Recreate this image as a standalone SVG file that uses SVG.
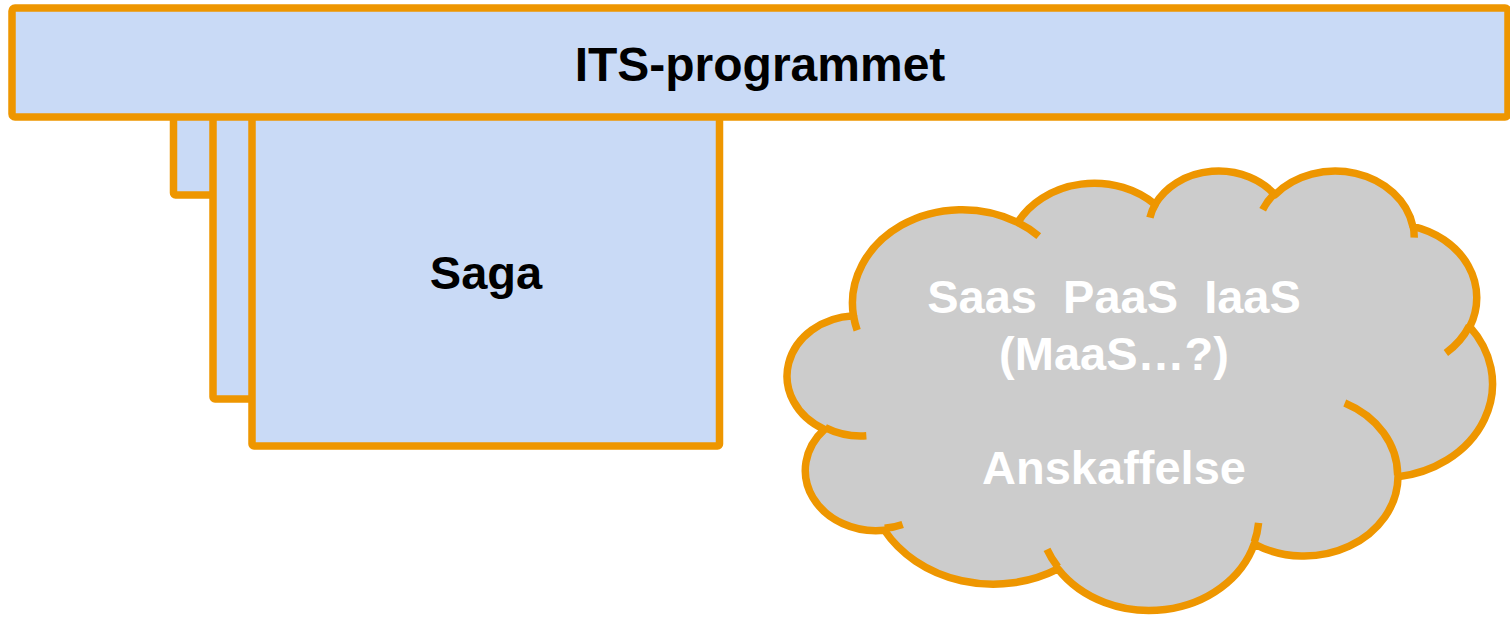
<svg xmlns="http://www.w3.org/2000/svg" width="1510" height="617" viewBox="0 0 1510 617">
<style>
.box{fill:#C9DAF6;stroke:#EE9600;stroke-width:7.5;stroke-linejoin:round}
.cl{stroke:#EE9600;stroke-width:7.5;stroke-linejoin:round}
.lbl{font-family:"Liberation Sans",Arial,sans-serif;font-weight:bold;font-size:47px;text-anchor:middle}
</style>
<rect width="1510" height="617" fill="#FFFFFF"/>
<g id="saga">
<rect class="box" x="173.5" y="60" width="90" height="135" rx="2"/>
<rect class="box" x="213" y="60" width="90" height="339" rx="2"/>
<rect class="box" x="252" y="60" width="467.5" height="386" rx="2"/>
<text class="lbl" x="486" y="289" fill="#000000">Saga</text>
</g>
<g id="its-programmet">
<rect class="box" x="12" y="8" width="1496" height="109" rx="3"/>
<text class="lbl" x="760" y="81" font-size="48" fill="#000000" style="font-size:48px">ITS-programmet</text>
</g>
<g id="cloud">
<g transform="translate(790.07,169.57) scale(0.016253,0.010169)">
<path class="cl" fill="#CCCCCC" vector-effect="non-scaling-stroke" d="M 3900 14370 A 6753 9190 0 0 1 14005.8 5202.6 A 5333 7267 0 0 1 22456.8 3432.4 A 4365 5945 0 0 1 29833.8 2481.1 A 4857 6595 0 0 1 38318.3 5577.4 A 5333 7273 0 0 1 41818.5 15461.3 A 6775 9220 0 0 1 37404.6 30204.7 A 5785 7867 0 0 1 28556.4 36814.9 A 6752 9215 0 0 1 16480.9 39265.8 A 7720 10543 0 0 1 5805.3 35471.6 A 4360 5918 0 0 1 2113.9 25549.9 A 4345 5945 0 0 1 3900 14370 Z"/>
<path class="cl" fill="none" vector-effect="non-scaling-stroke" d="M 4693 26177 A 4345 5945 0 0 1 2159.9 25380 M 6928 34899 A 4360 5918 0 0 1 5819.6 35280.4 M 16478 39090 A 6752 9215 0 0 1 15810 37350 M 28827 34751 A 6752 9215 0 0 1 28560.4 36660.3 M 34129 22954 A 5785 7867 0 0 1 37380.4 30089.6 M 41798 15354 A 5333 7273 0 0 1 40350.2 18029.6 M 38324 5426 A 4857 6595 0 0 1 38400.4 6689.6 M 29078 3952 A 4857 6595 0 0 1 29820.4 2339.3 M 22141 4720 A 4365 5945 0 0 1 22500.2 3330 M 14000 5192 A 6753 9190 0 0 1 15299.1 6539.8 M 4127 15789 A 6753 9190 0 0 1 3900.3 14370.5"/>
</g>
<text class="lbl" x="1114" y="313" fill="#FFFFFF" xml:space="preserve">Saas  PaaS  IaaS</text>
<text class="lbl" x="1114" y="370" fill="#FFFFFF">(MaaS…?)</text>
<text class="lbl" x="1114" y="484" fill="#FFFFFF">Anskaffelse</text>
</g>
<g id="connectors"/>
</svg>
